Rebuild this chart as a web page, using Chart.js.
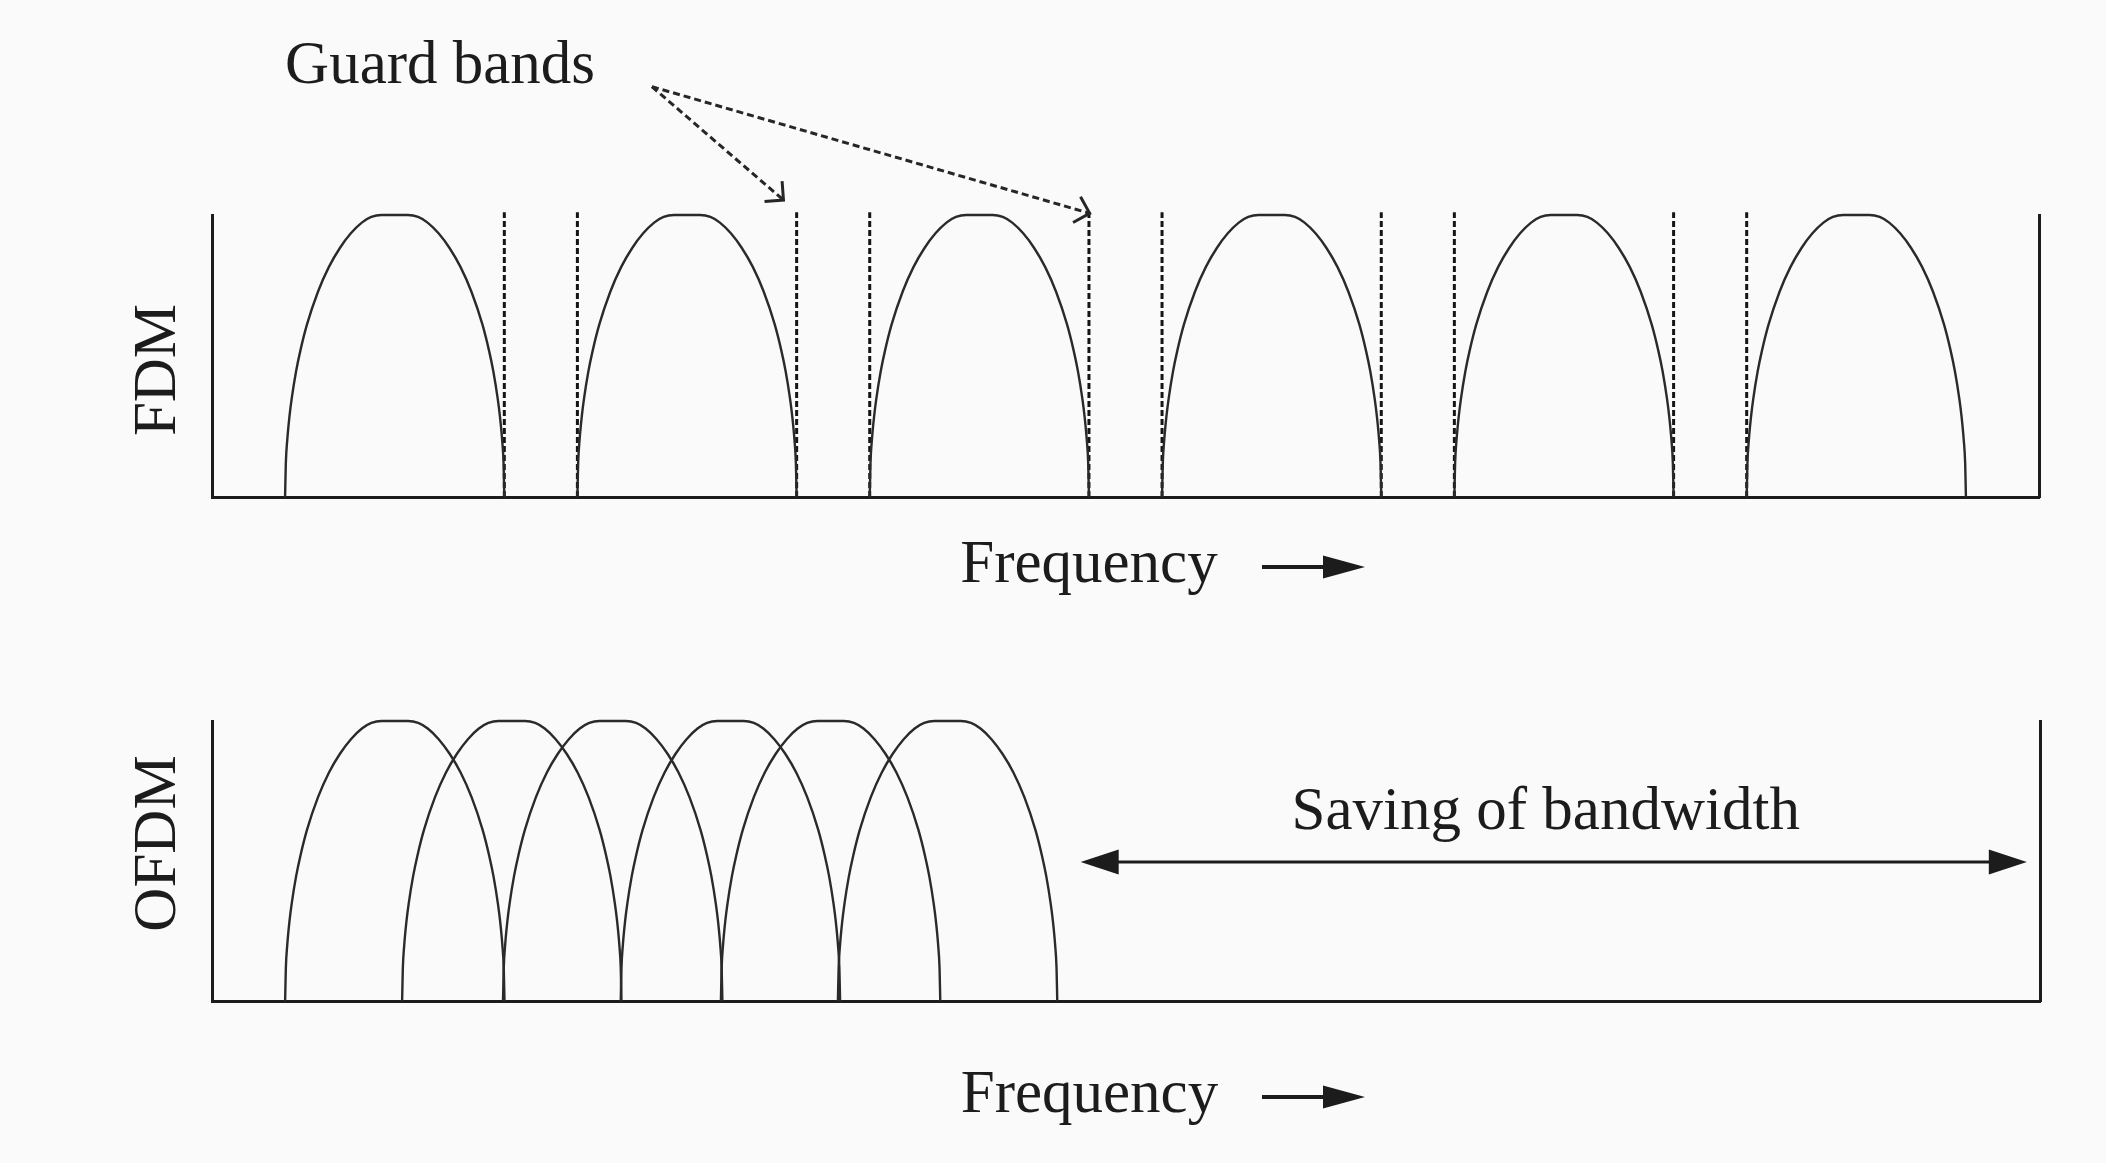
<!DOCTYPE html>
<html>
<head>
<meta charset="utf-8">
<script src="https://cdn.jsdelivr.net/npm/chart.js@4.4.0/dist/chart.umd.min.js"></script>
<style>
  html, body { margin: 0; padding: 0; background: #fafafa; }
  #wrap { position: relative; width: 2106px; height: 1163px; overflow: hidden; background: #fafafa; }
  canvas { position: absolute; left: 0; }
  #fdm { top: 0; }
  #ofdm { top: 620px; }
</style>
</head>
<body>
<div id="wrap">
  <canvas id="fdm" width="2106" height="620"></canvas>
  <canvas id="ofdm" width="2106" height="543"></canvas>
</div>
<script>
// ---- data (frequency in channel units, level normalised) ----
// shape of one carrier lobe: offset from its centre frequency and its level
const lobeOffsets = [-1.5, -1.49, -1.47, -1.44, -1.41, -1.35, -1.29, -1.2, -1.05, -0.9, -0.75, -0.6, -0.45, -0.32, -0.18,
                     0.18, 0.32, 0.45, 0.6, 0.75, 0.9, 1.05, 1.2, 1.29, 1.35, 1.41, 1.44, 1.47, 1.49, 1.5];
const lobeLevels  = [0, 0.118, 0.203, 0.286, 0.348, 0.445, 0.52, 0.612, 0.728, 0.816, 0.883, 0.935, 0.973, 0.993, 1,
                     1, 0.993, 0.973, 0.935, 0.883, 0.816, 0.728, 0.612, 0.52, 0.445, 0.348, 0.286, 0.203, 0.118, 0];
const fdmCenters  = [2.5, 6.5, 10.5, 14.5, 18.5, 22.5];
const ofdmCenters = [2.5, 4.1, 5.48, 7.09, 8.46, 10.06];
const guardBandEdges = [4, 5, 8, 9, 12, 13, 16, 17, 20, 21];
const guardLineTop = 1.01;
const guardArrowStart = [6.02, 1.455];
const guardArrowTargets = [[7.82, 1.053], [12.01, 1.006]];
const savingSpan = [11.88, 24.82];
const freqRange = [0, 25];
const levelRange = [0, 1];
const panelLabels = ['FDM', 'OFDM'];
const axisLabel = 'Frequency';
const guardLabel = 'Guard bands';
const savingLabel = 'Saving of bandwidth';

// ---- styling ----
const INK = '#1c1c1c';
const CURVE = '#2a2a2a';
const FONT = '61px "Liberation Serif", "Times New Roman", serif';

function lobe(center) {
  return lobeOffsets.map((o, i) => ({ x: center + o, y: lobeLevels[i] }));
}

function lobeDatasets(centers) {
  return centers.map((c, i) => ({
    label: 'carrier ' + (i + 1),
    data: lobe(c),
    borderColor: CURVE,
    borderWidth: 2.4,
    pointRadius: 0,
    fill: false,
    cubicInterpolationMode: 'monotone',
    clip: false
  }));
}

function guardDataset() {
  const pts = [];
  guardBandEdges.forEach(e => {
    pts.push({ x: e, y: levelRange[0] });
    pts.push({ x: e, y: guardLineTop });
    pts.push({ x: e, y: null });
  });
  return {
    label: 'guard',
    data: pts,
    borderColor: '#151515',
    borderWidth: 3,
    borderDash: [6, 3],
    pointRadius: 0,
    fill: false,
    tension: 0,
    spanGaps: false,
    clip: false
  };
}

function axisOpts(position) {
  return {
    type: 'linear',
    position: position,
    min: levelRange[0], max: levelRange[1],
    grid: { display: false, drawTicks: false },
    ticks: { display: false },
    border: { display: true, color: INK, width: 3 }
  };
}

function baseOptions(padding) {
  return {
    responsive: false,
    animation: false,
    devicePixelRatio: 1,
    events: [],
    layout: { padding: padding, autoPadding: false },
    plugins: { legend: { display: false }, tooltip: { enabled: false }, title: { display: false } },
    scales: {
      x: {
        type: 'linear', position: 'bottom',
        min: freqRange[0], max: freqRange[1],
        grid: { display: false, drawTicks: false },
        ticks: { display: false },
        border: { display: true, color: INK, width: 3 }
      },
      y: axisOpts('left'),
      y2: axisOpts('right')
    }
  };
}

function drawFrequencyLabel(ctx, xs, baseline) {
  ctx.save();
  ctx.fillStyle = INK;
  ctx.font = FONT;
  ctx.textAlign = 'center';
  ctx.textBaseline = 'alphabetic';
  const cx = xs.getPixelForValue(12);
  ctx.fillText(axisLabel, cx, baseline);
  // arrow
  const ay = baseline - 15;
  const x0 = 1262, tip = 1365, back = 1323;
  ctx.strokeStyle = INK;
  ctx.lineWidth = 4;
  ctx.beginPath(); ctx.moveTo(x0, ay); ctx.lineTo(back + 6, ay); ctx.stroke();
  ctx.beginPath();
  ctx.moveTo(tip, ay); ctx.lineTo(back, ay - 11.5); ctx.lineTo(back, ay + 11.5); ctx.closePath();
  ctx.fill();
  ctx.restore();
}

function drawRotated(ctx, text, x, y) {
  ctx.save();
  ctx.fillStyle = INK;
  ctx.font = FONT;
  ctx.translate(x, y);
  ctx.rotate(-Math.PI / 2);
  ctx.textAlign = 'center';
  ctx.textBaseline = 'alphabetic';
  ctx.fillText(text, 0, 0);
  ctx.restore();
}

const fdmExtras = {
  id: 'fdmExtras',
  afterDraw(chart) {
    const ctx = chart.ctx, xs = chart.scales.x, ys = chart.scales.y;
    ctx.save();
    ctx.fillStyle = INK;
    ctx.font = FONT;
    ctx.textAlign = 'left';
    ctx.textBaseline = 'alphabetic';
    ctx.fillText(guardLabel, xs.getPixelForValue(1), 83);
    ctx.restore();
    drawRotated(ctx, panelLabels[0], 175, 370);
    drawFrequencyLabel(ctx, xs, 582);

    // dashed pointer arrows to the guard bands
    const sx = xs.getPixelForValue(guardArrowStart[0]), sy = ys.getPixelForValue(guardArrowStart[1]);
    guardArrowTargets.forEach(t => {
      const tx = xs.getPixelForValue(t[0]), ty = ys.getPixelForValue(t[1]);
      ctx.save();
      ctx.strokeStyle = '#262626';
      ctx.lineWidth = 3;
      ctx.setLineDash([7, 4]);
      ctx.beginPath(); ctx.moveTo(sx, sy); ctx.lineTo(tx, ty); ctx.stroke();
      ctx.setLineDash([]);
      const ang = Math.atan2(sy - ty, sx - tx);
      const len = 19;
      ctx.beginPath();
      ctx.moveTo(tx + len * Math.cos(ang + Math.PI / 4), ty + len * Math.sin(ang + Math.PI / 4));
      ctx.lineTo(tx, ty);
      ctx.lineTo(tx + len * Math.cos(ang - Math.PI / 4), ty + len * Math.sin(ang - Math.PI / 4));
      ctx.stroke();
      ctx.restore();
    });
  }
};

const ofdmExtras = {
  id: 'ofdmExtras',
  afterDraw(chart) {
    const ctx = chart.ctx, xs = chart.scales.x;
    drawRotated(ctx, panelLabels[1], 175, 223.5);
    drawFrequencyLabel(ctx, xs, 492);

    const x1 = xs.getPixelForValue(savingSpan[0]);
    const x2 = xs.getPixelForValue(savingSpan[1]);
    ctx.save();
    ctx.fillStyle = INK;
    ctx.font = FONT;
    ctx.textAlign = 'center';
    ctx.textBaseline = 'alphabetic';
    ctx.fillText(savingLabel, (x1 + x2) / 2 - 8, 209);
    const ay = 242, hl = 38, hh = 12.5;
    ctx.strokeStyle = INK;
    ctx.lineWidth = 3;
    ctx.beginPath(); ctx.moveTo(x1 + hl - 4, ay); ctx.lineTo(x2 - hl + 4, ay); ctx.stroke();
    ctx.beginPath();
    ctx.moveTo(x1, ay); ctx.lineTo(x1 + hl, ay - hh); ctx.lineTo(x1 + hl, ay + hh); ctx.closePath(); ctx.fill();
    ctx.beginPath();
    ctx.moveTo(x2, ay); ctx.lineTo(x2 - hl, ay - hh); ctx.lineTo(x2 - hl, ay + hh); ctx.closePath(); ctx.fill();
    ctx.restore();
  }
};

new Chart(document.getElementById('fdm'), {
  type: 'line',
  data: { datasets: lobeDatasets(fdmCenters).concat([guardDataset()]) },
  options: baseOptions({ left: 212, right: 2106 - 2039, top: 215, bottom: 620 - 497 }),
  plugins: [fdmExtras]
});

new Chart(document.getElementById('ofdm'), {
  type: 'line',
  data: { datasets: lobeDatasets(ofdmCenters) },
  options: baseOptions({ left: 212, right: 2106 - 2040, top: 101, bottom: 543 - 381 }),
  plugins: [ofdmExtras]
});
</script>
</body>
</html>
